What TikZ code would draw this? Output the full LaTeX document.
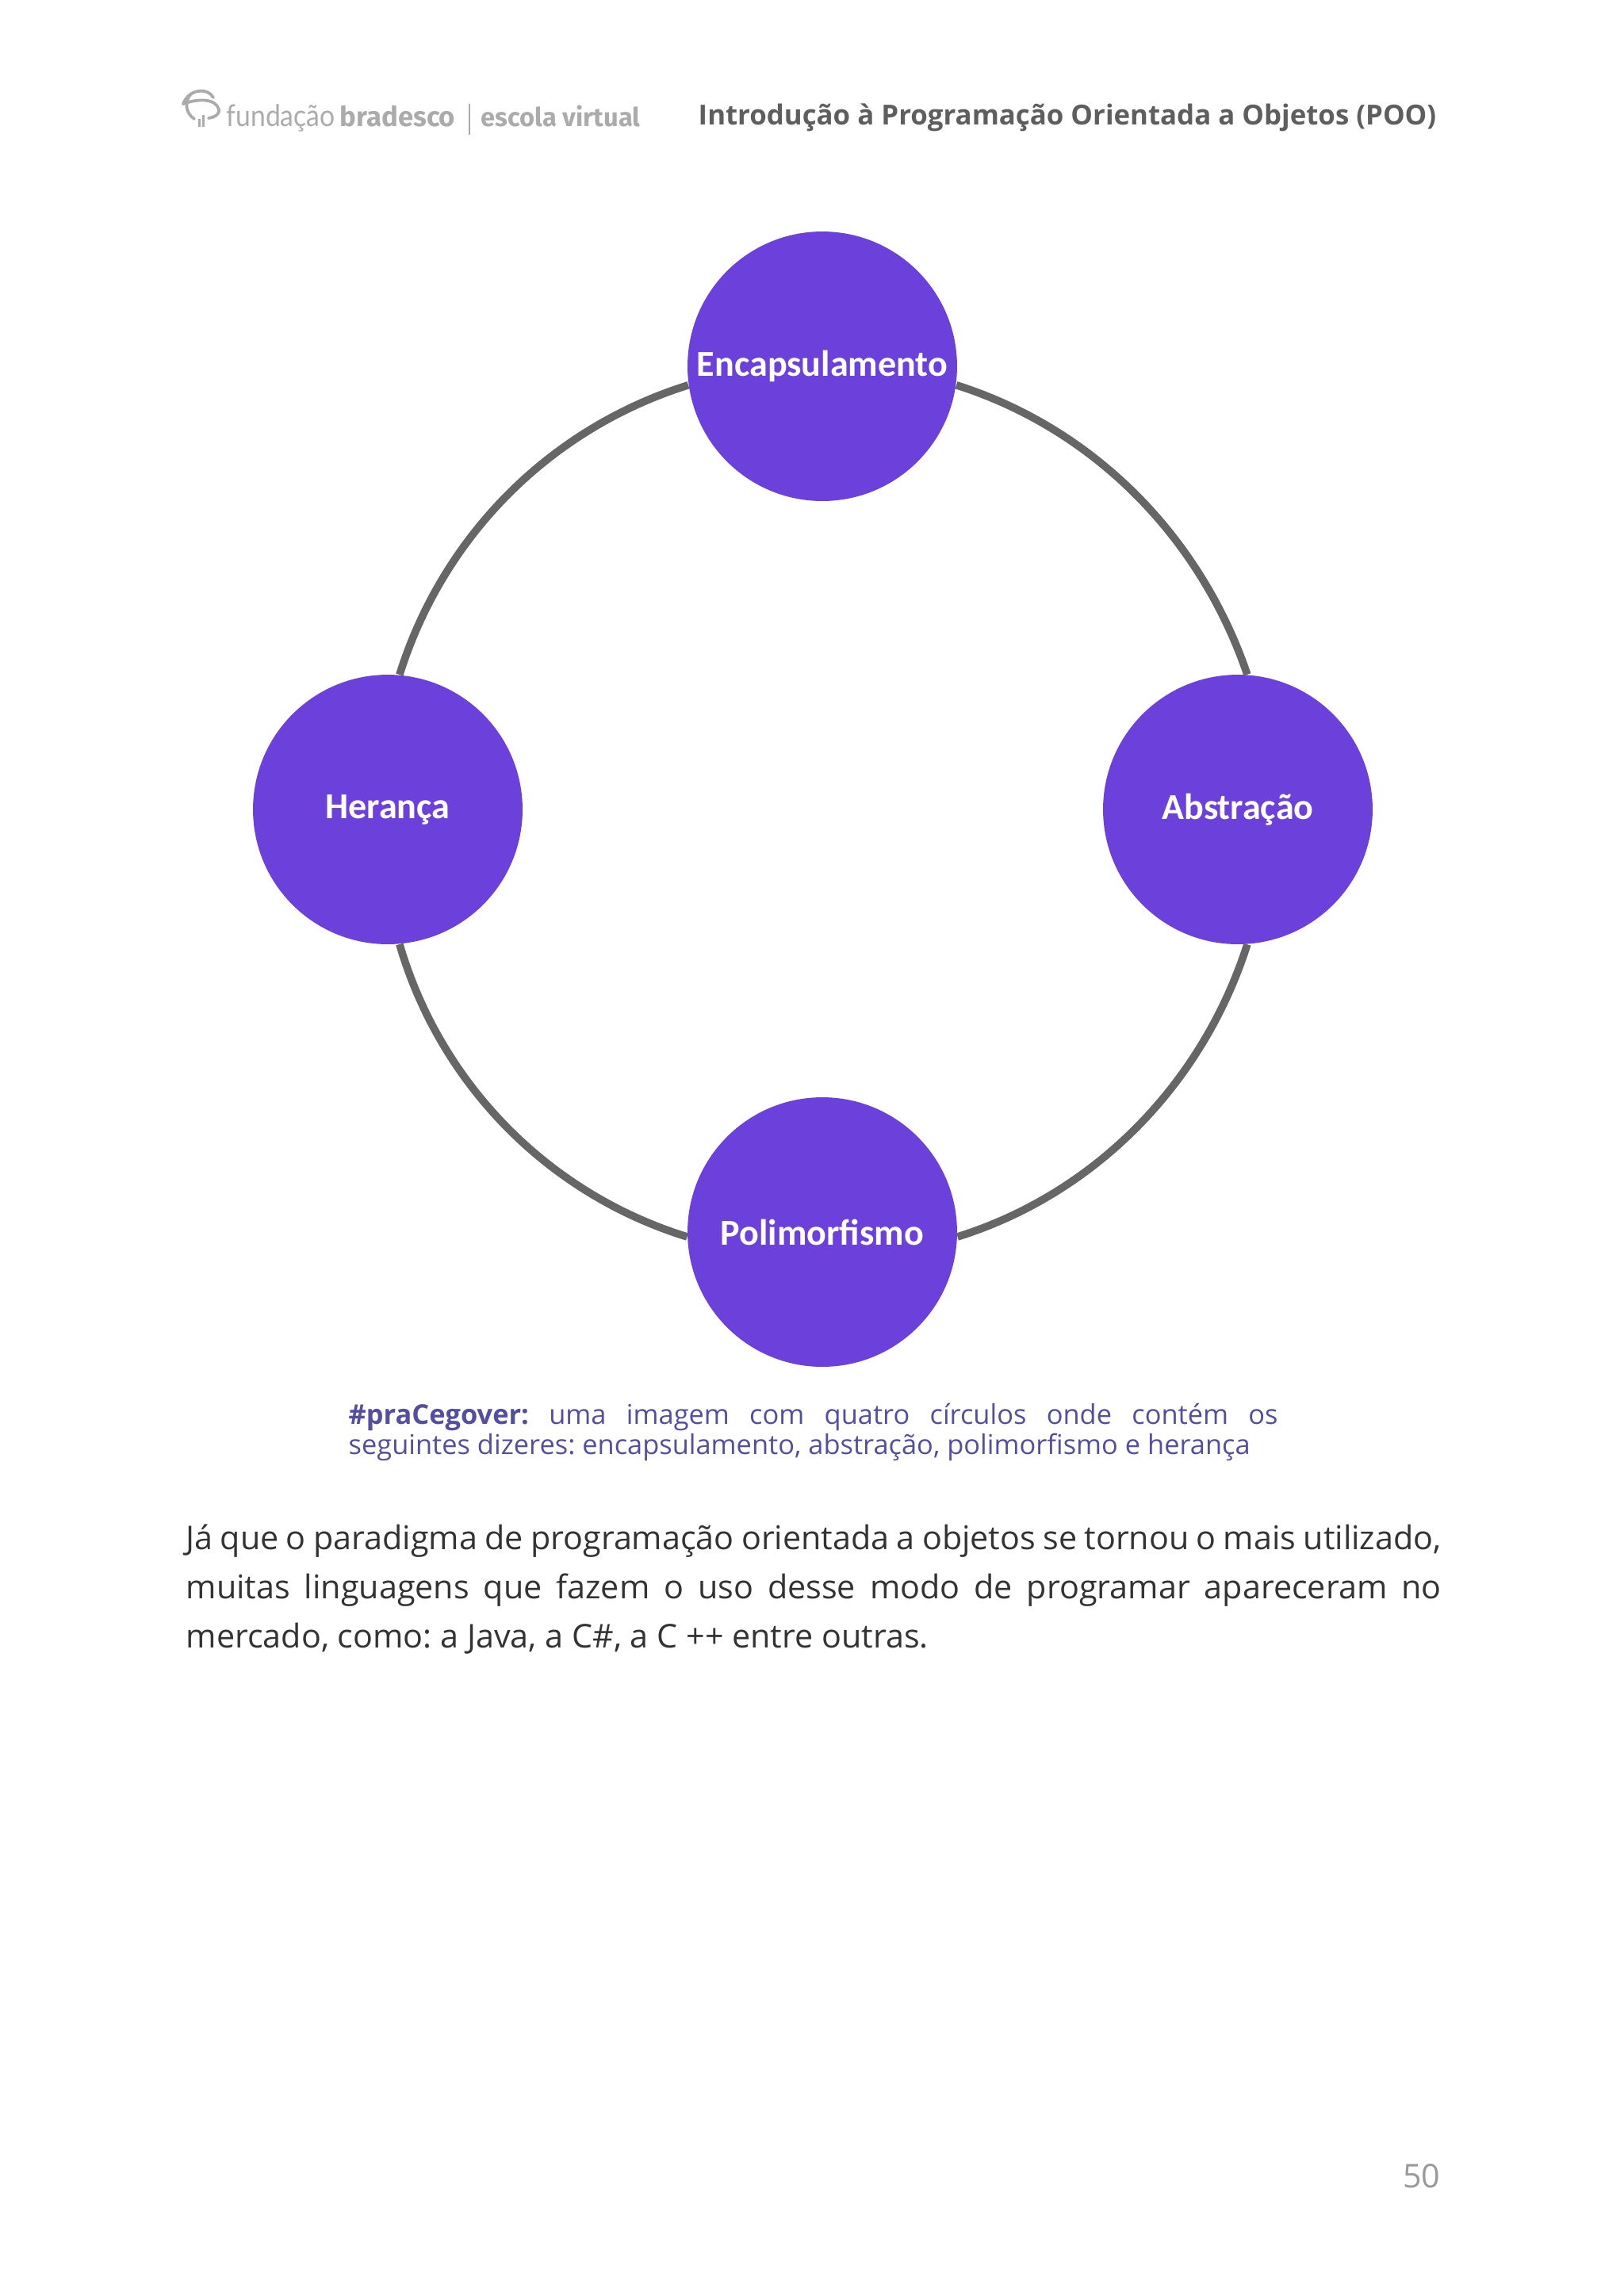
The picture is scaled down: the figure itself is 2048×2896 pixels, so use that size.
\documentclass[tikz,border=0pt]{standalone}
\usepackage{fontspec}
\setmainfont{Open Sans}
\newfontfamily\logofont[FakeStretch=0.89]{Lato}
\newfontfamily\logobold{Fira Sans}
\newfontfamily\ballfont{Carlito}
\definecolor{ballviolet}{HTML}{6C41DB}
\definecolor{ringgray}{HTML}{666666}
\definecolor{capviolet}{HTML}{534EA0}
\definecolor{logogray}{HTML}{ABABAB}
\definecolor{headgray}{HTML}{5E5E5E}
\definecolor{bodygray}{HTML}{333333}
\definecolor{pagegray}{HTML}{999999}
\tikzset{
  ball/.style={circle,fill=ballviolet,minimum size=98.8bp,inner sep=0pt,text=white,font=\ballfont\fontsize{13.4bp}{15bp}\bfseries},
  ring/.style={ringgray,line width=2.8bp},
  logotext/.style={inner sep=0pt,anchor=base west,text=logogray},
  logoline/.style={logogray,line width=1.1bp,line cap=round},
  bodyline/.style={inner sep=0pt,anchor=base west,text=bodygray,font=\fontsize{12bp}{18bp}\selectfont\frenchspacing},
  capline/.style={inner sep=0pt,anchor=base west,text=capviolet,font=\fontsize{10bp}{11bp}\selectfont\frenchspacing},
}
\begin{document}
\begin{tikzpicture}[x=0.29066bp,y=-0.29066bp,line join=bevel]
\useasboundingbox (0,0) rectangle (2048,2896);
%%
\node (node_enc) at (1037,462) [ball] {Encapsulamento};
\node (node_abs) at (1561,1021) [ball] {Abstração};
\node (node_pol) at (1037,1554) [ball] {Polimorfismo};
\node (node_her) at (489,1021) [ball] {Herança};
\draw [ring] (node_enc.-8.5) ..controls (1378.4,540.3) and (1513.6,676.3) .. (node_abs.86);
\draw [ring] (node_abs.-86) ..controls (1517,1366.5) and (1381.5,1505.6) .. (node_pol.-2);
\draw [ring] (node_pol.182) ..controls (690.5,1505.6) and (555,1366.5) .. (node_her.-85.6);
\draw [ring] (node_her.85.6) ..controls (558.4,676.3) and (693.6,540.3) .. (node_enc.188.5);
%
\node (head_title) at (1812,148) [inner sep=0pt,text=headgray,anchor=mid east,font=\fontsize{10.12bp}{12bp}\bfseries] {Introdução à Programação Orientada a Objetos (POO)};
\node (logo_fund) at (285,159) [logotext,font=\logofont\fontsize{11bp}{12bp}\selectfont] {fundação};
\node (logo_brad) at (428,159) [logotext,font=\logobold\fontsize{10.1bp}{12bp}\bfseries] {bradesco};
\node (logo_esc) at (606,159) [logotext,font=\logobold\fontsize{9.5bp}{12bp}\bfseries] {escola virtual};
\draw [logogray,line width=0.4bp] (592,131) -- (592,170);
\draw [logoline] (231,131) .. controls (238,112) and (262,110) .. (269,123);
\draw [logoline] (231,131) .. controls (250,124) and (272,124) .. (276,138) .. controls (277,145) and (270,148) .. (263,149);
\draw [logoline] (241,118) .. controls (232,128) and (234,143) .. (245,150);
\draw [logogray,line width=1bp] (251.5,160) -- (251.5,150) (256.5,160) -- (256.5,145);
%
\node (cap_a) at (439,1796) [capline] {\makebox[340.65bp][s]{\textbf{\#praCegover:} uma imagem com quatro círculos onde contém os}};
\node (cap_b) at (439,1834) [capline] {seguintes dizeres: encapsulamento, abstração, polimorfismo e herança};
%
\node (body_a) at (234,1954) [bodyline] {\makebox[460.1bp][s]{Já que o paradigma de programação orientada a objetos se tornou o mais utilizado,}};
\node (body_b) at (234,2016) [bodyline] {\makebox[460.1bp][s]{muitas linguagens que fazem o uso desse modo de programar apareceram no}};
\node (body_c) at (234,2078) [bodyline] {mercado, como: a Java, a C\#, a C ++ entre outras.};
\node (page_no) at (1817,2750) [inner sep=0pt,anchor=mid east,text=pagegray,font=\fontsize{12bp}{14bp}\selectfont] {50};
%
\end{tikzpicture}
\end{document}
